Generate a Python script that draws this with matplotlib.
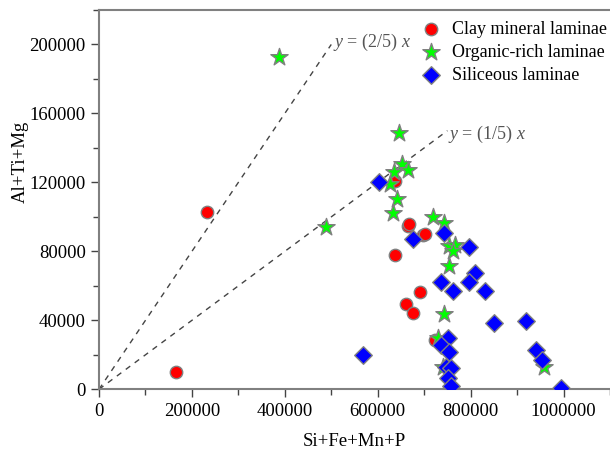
import numpy as np
import matplotlib
matplotlib.use('Agg')
import matplotlib.pyplot as plt

plt.rcParams['font.family'] = ['Liberation Serif', 'DejaVu Serif']
plt.rcParams['mathtext.fontset'] = 'custom'
plt.rcParams['mathtext.rm'] = 'Liberation Serif'
plt.rcParams['mathtext.it'] = 'Liberation Serif:italic'

# clay mineral laminae
clay_x = [166000, 232000, 638000, 665000, 667000, 698000, 702000, 638000,
          691000, 661000, 677000, 724000]
clay_y = [10000, 102600, 120700, 94700, 95800, 89400, 90000, 77800,
          56600, 49400, 44400, 28600]

# organic-rich laminae
org_x = [387700, 487700, 645400, 652400, 664500, 636000, 626600, 641000,
         632300, 720000, 742000, 752600, 766400, 761300, 752700, 743400,
         729000, 739800, 958500]
org_y = [192500, 94000, 148400, 130400, 127100, 126100, 118800, 110300,
         102000, 100100, 96200, 83100, 83600, 80300, 71500, 43500,
         29500, 13100, 13100]

# siliceous laminae
sil_x = [568000, 602200, 675300, 743400, 797200, 736300, 761300, 810000,
         797200, 831000, 851000, 750600, 736300, 752700, 747000, 757800,
         750600, 757800, 919000, 940600, 953500, 994400]
sil_y = [19900, 120000, 87000, 90400, 82700, 62400, 57200, 67600,
         62400, 57200, 38600, 29500, 25700, 21800, 13100, 12100,
         6400, 1900, 39800, 22800, 17000, 1000]

fig = plt.figure(figsize=(6.1, 4.53), dpi=100)
ax = fig.add_axes([0.1623, 0.1406, 0.8377, 0.8374])

# reference lines
ax.plot([0, 500000], [0, 200000], ls=(0, (4, 4)), color='#444444', lw=1)
ax.plot([0, 750000], [0, 150000], ls=(0, (4, 4)), color='#444444', lw=1)
ax.text(504000, 201000, r'$y$ = (2/5) $x$', fontsize=13, color='#555555',
        ha='left', va='center')
ax.text(751000, 148000, r'$y$ = (1/5) $x$', fontsize=13, color='#555555',
        ha='left', va='center')

ec = '#808080'
ax.scatter(clay_x, clay_y, s=80, marker='o', c='#ff0000', edgecolors=ec,
           linewidths=1, label='Clay mineral laminae', zorder=3)
ax.scatter(org_x, org_y, s=170, marker='*', c='#00ff00', edgecolors=ec,
           linewidths=1, label='Organic-rich laminae', zorder=3)
ax.scatter(sil_x, sil_y, s=80, marker='D', c='#0000ff', edgecolors=ec,
           linewidths=1, label='Siliceous laminae', zorder=3)

ax.set_xlim(0, 1100000)
ax.set_ylim(0, 220000)
ax.set_xticks(np.arange(0, 1000001, 200000))
ax.set_xticks(np.arange(100000, 1100001, 200000), minor=True)
ax.set_yticks(np.arange(0, 200001, 40000))
ax.set_yticks(np.arange(20000, 220001, 40000), minor=True)
ax.ticklabel_format(style='plain', useOffset=False)
ax.tick_params(which='major', direction='out', length=6, width=1,
               color='#444444', labelsize=13.5)
ax.tick_params(which='minor', direction='out', length=4, width=1,
               color='#444444')

for side in ['left', 'bottom', 'top']:
    ax.spines[side].set_color('#808080')
    ax.spines[side].set_linewidth(1.5)
ax.spines['right'].set_visible(False)

ax.set_xlabel('Si+Fe+Mn+P', fontsize=13.5, labelpad=10)
ax.set_ylabel('Al+Ti+Mg', fontsize=13.5)
ax.yaxis.set_label_coords(-0.137, 0.6)

ax.legend(loc='upper right', bbox_to_anchor=(607 / 610, 1 - 21 / 453),
          bbox_transform=fig.transFigure, frameon=False, fontsize=13,
          handletextpad=0.15, labelspacing=0.32, borderaxespad=0,
          borderpad=0)

fig.savefig('out.png', dpi=100)
